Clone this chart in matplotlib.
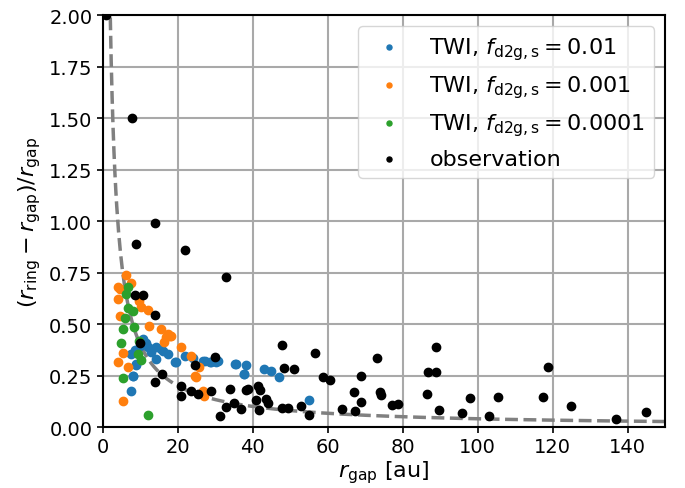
import matplotlib.pyplot as plt
import numpy as np

# TWI models, f_d2g,s = 0.01
twi1_x = [7.6, 8.1, 9.0, 7.6, 8.5, 10.8, 11.6, 12.1, 14.3, 15.6, 14.3, 17.4, 19.6,
          21.9, 24.1, 27.2, 28.5, 30.3, 35.5, 38.3, 37.6, 9.9, 13.0, 16.1, 19.2,
          26.8, 29.0, 30.7, 8.9, 8.0, 12.9, 35.4, 37.7, 43.0, 45.0, 46.9, 54.9]
twi1_y = [0.176, 0.246, 0.300, 0.354, 0.375, 0.427, 0.410, 0.387, 0.387, 0.379, 0.330,
          0.354, 0.314, 0.346, 0.333, 0.322, 0.314, 0.314, 0.306, 0.300, 0.256, 0.395,
          0.362, 0.370, 0.314, 0.322, 0.314, 0.322, 0.306, 0.246, 0.380, 0.306, 0.257,
          0.280, 0.273, 0.244, 0.130]

# TWI models, f_d2g,s = 0.001
twi2_x = [6.3, 7.6, 4.7, 4.1, 9.7, 10.3, 4.7, 12.3, 15.6, 17.0, 18.3, 17.4, 21.0,
          5.4, 4.1, 23.6, 25.7, 25.0, 26.8, 26.9, 5.4, 4.1, 6.8, 16.3, 17.9, 24.5, 12.0]
twi2_y = [0.74, 0.70, 0.67, 0.62, 0.61, 0.585, 0.537, 0.489, 0.476, 0.435, 0.443, 0.45,
          0.387, 0.36, 0.314, 0.346, 0.29, 0.244, 0.176, 0.152, 0.125, 0.68, 0.29,
          0.414, 0.443, 0.249, 0.57]

# TWI models, f_d2g,s = 0.0001
twi3_x = [6.8, 6.2, 6.8, 8.0, 5.3, 8.3, 4.9, 9.8, 9.3, 10.2, 5.3, 12.0, 5.9]
twi3_y = [0.68, 0.645, 0.576, 0.565, 0.476, 0.484, 0.41, 0.42, 0.354, 0.327, 0.24,
          0.058, 0.53]

# observed rings/gaps
obs_x = [0.8, 7.7, 9.0, 13.9, 21.9, 32.8, 8.5, 10.8, 13.9, 9.9, 15.8, 13.9, 29.9,
         24.7, 21.0, 21.0, 23.6, 25.4, 29.0, 33.9, 38.3, 32.8, 35.0, 37.0, 31.4,
         47.9, 56.7, 48.4, 50.9, 58.8, 60.7, 69.0, 73.2, 88.8, 86.8, 88.8, 38.8,
         41.4, 41.9, 41.0, 43.5, 44.1, 41.7, 47.9, 49.3, 53.0, 54.9, 63.9, 67.2,
         66.9, 69.0, 73.9, 74.1, 77.2, 78.8, 89.7, 86.5, 95.8, 97.9, 102.9, 105.4,
         117.4, 118.7, 125.0, 137.0, 144.8]
obs_y = [2.00, 1.50, 0.89, 0.99, 0.86, 0.73, 0.64, 0.64, 0.545, 0.41, 0.256, 0.22,
         0.34, 0.30, 0.20, 0.15, 0.175, 0.16, 0.173, 0.184, 0.18, 0.096, 0.115, 0.087,
         0.055, 0.40, 0.357, 0.286, 0.28, 0.244, 0.228, 0.25, 0.335, 0.387, 0.265,
         0.268, 0.184, 0.20, 0.18, 0.133, 0.136, 0.116, 0.081, 0.091, 0.091, 0.10,
         0.06, 0.086, 0.076, 0.171, 0.12, 0.168, 0.155, 0.108, 0.112, 0.083, 0.16,
         0.068, 0.142, 0.055, 0.146, 0.144, 0.29, 0.103, 0.039, 0.074]

# reference curve (r_ring - r_gap)/r_gap = a / r_gap
curve_a = 4.0

fig = plt.figure(figsize=(6.85, 4.89), dpi=100)
ax = fig.add_axes([0.150, 0.1247, 0.821, 0.8425])

rr = np.linspace(1.5, 150, 600)
ax.plot(rr, curve_a / rr, ls="--", color="gray", lw=2.5, zorder=2)

ax.scatter(twi1_x, twi1_y, s=36, color="C0", label=r"TWI, $f_{\rm d2g,s}=0.01$", zorder=3)
ax.scatter(twi2_x, twi2_y, s=36, color="C1", label=r"TWI, $f_{\rm d2g,s}=0.001$", zorder=3)
ax.scatter(twi3_x, twi3_y, s=36, color="C2", label=r"TWI, $f_{\rm d2g,s}=0.0001$", zorder=3)
ax.scatter(obs_x, obs_y, s=36, color="k", label="observation", zorder=4)

ax.set_xlim(0, 150)
ax.set_ylim(0, 2.0)
ax.set_xticks(np.arange(0, 141, 20))
ax.set_yticks(np.arange(0, 2.01, 0.25))
ax.grid(color="darkgray", lw=1.5)
ax.set_axisbelow(True)
for sp in ax.spines.values():
    sp.set_linewidth(1.5)
ax.tick_params(labelsize=14, width=1.2, length=4)
ax.set_xlabel(r"$r_{\rm gap}$ [au]", fontsize=16, labelpad=1)
ax.set_ylabel(r"$(r_{\rm ring}-r_{\rm gap})/r_{\rm gap}$", fontsize=16)
ax.legend(loc="upper right", fontsize=16, markerscale=0.6, handletextpad=0.8)

fig.savefig("out.png", dpi=100)
